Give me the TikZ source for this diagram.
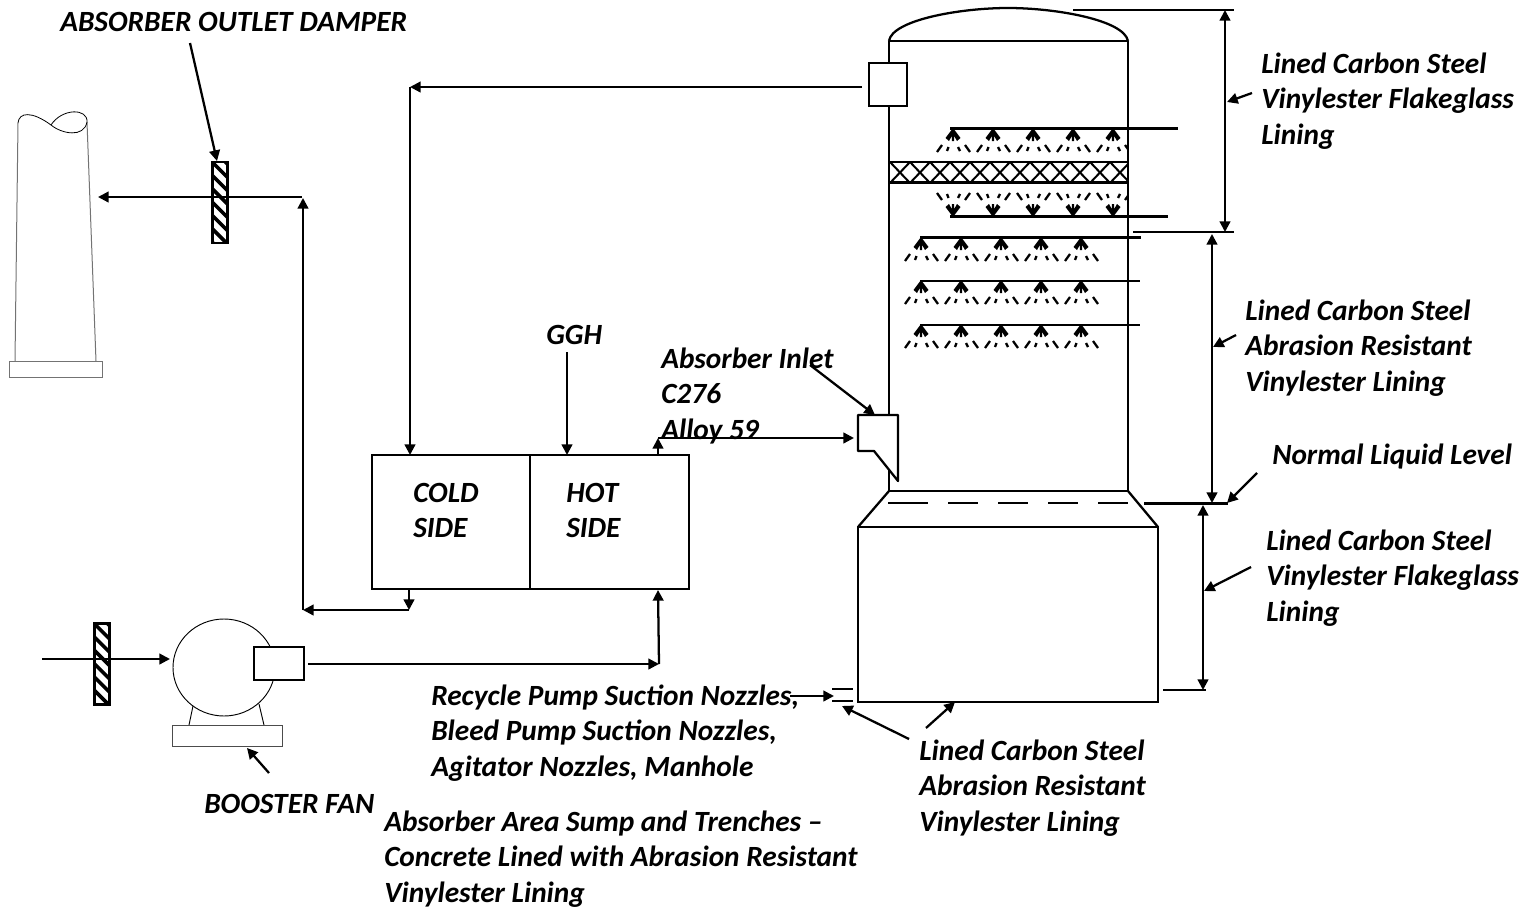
\documentclass[tikz,border=0pt]{standalone}
\usepackage{fontspec}
\setmainfont{Carlito}
\usetikzlibrary{arrows.meta,shapes.geometric}
\tikzset{
  pipe/.style={line width=1.7pt},
  arr/.style={line width=1.7pt,-{Triangle[length=8pt,width=8pt]}},
  ptr/.style={line width=1.7pt,-{Triangle[length=8pt,width=8pt]}},
  dim/.style={line width=1.7pt,{Triangle[length=8pt,width=8pt]}-{Triangle[length=8pt,width=8pt]}},
  thinline/.style={line width=0.7pt},
  greyline/.style={line width=0.75pt,draw=black!55},
  lbl/.style={font=\fontsize{22pt}{26.6pt}\selectfont\bfseries\itshape,align=left,anchor=west,inner sep=0pt,yshift=-0.7pt},
  damper/.style={draw,line width=1.8pt,fill=white,minimum width=11.5pt,minimum height=60.5pt,inner sep=0pt,
    path picture={\foreach \k in {-1,...,6}{
      \draw[line width=2.7pt] ([yshift=-\k*10pt]path picture bounding box.north west) -- ++(12pt,-12pt);}}},
  whitebox/.style={draw,fill=white,inner sep=0pt},
  sprayup/.pic={
    \fill (0,-1) -- (-7.5,9) -- (-4,12) -- (-1.2,7) -- (-1.2,12) -- (1.2,12) -- (1.2,7) -- (4,12) -- (7.5,9) -- cycle;
    \draw[line width=1.7pt] (-16,23) -- (-11,16) (-6,22) -- (-4.5,18) (5,18) -- (7,22) (12,16) -- (17,23);
  }
}
\begin{document}
\begin{tikzpicture}[x=0.75pt,y=-0.75pt]
\useasboundingbox (0,0) rectangle (1532,907);

% Stack
\draw[greyline] (18,123) -- (15,361);
\draw[greyline] (87,122) -- (96,361);
\draw[line width=0.6pt] (18,123) .. controls (19,112) and (32,111) .. (51,125)
   .. controls (62,134) and (84,138) .. (87,122) .. controls (88,108) and (62,108) .. (51,125);
\node[draw=black!55,line width=0.75pt,inner sep=0pt,minimum width=69.75pt,minimum height=12pt] (stackbase) at (55.5,369) {};

% Fan
\node[ellipse,draw,thinline,minimum width=76.5pt,minimum height=72.75pt,inner sep=0pt] (fan) at (224,667.5) {};
\coordinate (legA) at (193,706); \coordinate (legB) at (189,725);
\coordinate (legC) at (259,704); \coordinate (legD) at (264,725);
\draw[thinline] (legA) -- (legB) (legC) -- (legD);
\node[draw=black!70,line width=0.75pt,inner sep=0pt,minimum width=82.5pt,minimum height=16pt] (fanbase) at (227,736) {};
\node[whitebox,line width=0.8pt,minimum width=37.5pt,minimum height=24.75pt] (motor) at (279,663.5) {};

% Dampers
\node[damper] (damperA) at (220,202.5) {};
\node[damper] (damperB) at (102,664) {};

% GGH
\node[draw,pipe,inner sep=0pt,minimum width=118.5pt,minimum height=100.5pt] (cold) at (451,522) {};
\node[draw,pipe,inner sep=0pt,minimum width=119.25pt,minimum height=100.5pt] (hot) at (609.5,522) {};

% Junction coordinates
\coordinate (stackIn) at (98,197);
\coordinate (jA) at (302,197);
\coordinate (jAup) at (303,198);
\coordinate (jB) at (303,610);
\coordinate (jC) at (409,610);
\coordinate (coldB) at (409,589);
\coordinate (jD) at (410,87);
\coordinate (outletL) at (862,87);
\coordinate (coldT) at (410,455);
\coordinate (jE) at (658,438);
\coordinate (hotT) at (658,455);
\coordinate (jF) at (659,664);
\coordinate (hotB) at (658,590);
\coordinate (fanStart) at (42,659);
\coordinate (fanIn) at (170,659);
\coordinate (motorOut) at (308,664);
\coordinate (inletIn) at (854,438);

% Absorber shell
\coordinate (domeL) at (889,41);
\coordinate (domeR) at (1128,41);
\draw[pipe] (domeL) .. controls (892,20) and (960,8) .. (1008,8) .. controls (1056,8) and (1124,20) .. (domeR);
\draw[pipe] (domeL) -- (domeR);
\draw[pipe] (domeL) -- (889,491) -- (1128,491) -- (domeR);
\draw[pipe] (889,491) -- (858,527) (1128,491) -- (1158,527);
\node[draw,pipe,inner sep=0pt,minimum width=225pt,minimum height=131.25pt] (tank) at (1008,614.5) {};
% Liquid level
\draw[pipe] (888,503) -- (928,503) (948,503) -- (978,503) (998,503) -- (1028,503) (1048,503) -- (1078,503) (1098,503) -- (1128,503);

% Outlet box
\node[whitebox,pipe,minimum width=28.5pt,minimum height=32.25pt] (outlet) at (888,84.5) {};
% Inlet
\draw[pipe,fill=white,line join=round] (858,415) -- (898,415) -- (898,481) -- (874,451) -- (858,451) -- cycle;
\coordinate (inletTop) at (875,415);

% Sprays
\begin{scope}
\clip (889,100) rectangle (1127,230);
\foreach \x in {953,993,1033,1073,1113}{
  \pic at (\x,129) {sprayup};
  \pic[yscale=-1] at (\x,216) {sprayup};
}
\end{scope}
\foreach \y in {238,281,325}
  \foreach \x in {921,961,1001,1041,1081}
    \pic at (\x,\y) {sprayup};
\coordinate (hdrAa) at (950,128.5); \coordinate (hdrAb) at (1178,128.5);
\coordinate (hdrBa) at (950,216.5); \coordinate (hdrBb) at (1168,216.5);
\coordinate (hdrCa) at (920,237.5); \coordinate (hdrCb) at (1141,237.5);
\coordinate (hdrDa) at (920,281); \coordinate (hdrDb) at (1140,281);
\coordinate (hdrEa) at (920,325); \coordinate (hdrEb) at (1140,325);
\draw[pipe] (hdrAa) -- (hdrAb) (hdrBa) -- (hdrBb) (hdrCa) -- (hdrCb) (hdrDa) -- (hdrDb) (hdrEa) -- (hdrEb);

% Packing
\draw[line width=1.8pt] (889,162) -- (1128,162) (889,182.5) -- (1128,182.5);
\begin{scope}
\clip (889,161) rectangle (1128,184);
\foreach \i in {0,...,11}
  \draw[line width=1.5pt] (890+20*\i,162) -- (910+20*\i,183) (910+20*\i,162) -- (890+20*\i,183);
\end{scope}

% Flow connectors
\draw[arr] (outletL) -- (jD);
\draw[arr] (jD) -- (coldT);
\draw[arr] (jA) -- (stackIn);
\draw[arr] (jB) -- (jAup);
\draw[arr] (jC) -- (jB);
\draw[arr] (coldB) -- (jC);
\draw[arr] (fanStart) -- (fanIn);
\draw[arr] (motorOut) -- (jF);
\draw[arr] (jF) -- (hotB);
\draw[arr] (hotT) -- (jE);
\draw[arr] (jE) -- (inletIn);

% Bottom nozzles
\coordinate (nzA) at (832,689); \coordinate (nzB) at (853,689);
\coordinate (nzC) at (832,701); \coordinate (nzD) at (853,701);
\draw[pipe] (nzA) -- (nzB) (nzC) -- (nzD);

% Dimension lines
\coordinate (dA) at (1073,10); \coordinate (dAr) at (1234,10);
\coordinate (dB) at (1133,232); \coordinate (dBr) at (1234,232);
\coordinate (dC) at (1144,503.5); \coordinate (dCr) at (1228,503.5);
\coordinate (dD) at (1163,690); \coordinate (dDr) at (1206,690);
\draw[pipe] (dA) -- (dAr) (dB) -- (dBr) (dC) -- (dCr) (dD) -- (dDr);
\draw[dim] (1225,10) -- (1225,232);
\draw[dim] (1212,234) -- (1212,503);
\draw[dim] (1203,505) -- (1203,690);

% Labels
\node[lbl] (tOutlet) at (60,21) {ABSORBER OUTLET DAMPER};
\node[lbl] (tTopR) at (1261,100) {Lined Carbon Steel\\Vinylester Flakeglass\\Lining};
\node[lbl] (tMidR) at (1245,347) {Lined Carbon Steel\\Abrasion Resistant\\Vinylester Lining};
\node[lbl] (tLevel) at (1272,456) {Normal Liquid Level};
\node[lbl] (tLowR) at (1266,577) {Lined Carbon Steel\\Vinylester Flakeglass\\Lining};
\node[lbl] (tGGH) at (546,334) {GGH};
\node[lbl] (tInlet) at (661,395) {Absorber Inlet\\C276\\Alloy 59};
\node[lbl] (tCold) at (413,509.5) {COLD\\SIDE};
\node[lbl] (tHot) at (566,509.5) {HOT\\SIDE};
\node[lbl] (tRecycle) at (431,732) {Recycle Pump Suction Nozzles,\\Bleed Pump Suction Nozzles,\\Agitator Nozzles, Manhole};
\node[lbl] (tFan) at (204,803) {BOOSTER FAN};
\node[lbl] (tSump) at (384,858) {Absorber Area Sump and Trenches --\\Concrete Lined with Abrasion Resistant\\Vinylester Lining};
\node[lbl] (tTank) at (919,787) {Lined Carbon Steel\\Abrasion Resistant\\Vinylester Lining};

% Pointers
\coordinate (pA) at (190,43); \coordinate (pAe) at (217,161);
\draw[ptr] (pA) -- (pAe);
\coordinate (pB) at (567,352); \coordinate (pBe) at (567,455);
\draw[ptr] (pB) -- (pBe);
\coordinate (pC) at (810,365);
\draw[ptr] (pC) -- (inletTop);
\coordinate (pD) at (1252,93); \coordinate (pDe) at (1227,102);
\draw[ptr] (pD) -- (pDe);
\coordinate (pE) at (1236,335); \coordinate (pEe) at (1213,347);
\draw[ptr] (pE) -- (pEe);
\coordinate (pF) at (1257,473); \coordinate (pFe) at (1227,503);
\draw[ptr] (pF) -- (pFe);
\coordinate (pG) at (1251,567); \coordinate (pGe) at (1204,591);
\draw[ptr] (pG) -- (pGe);
\coordinate (pH) at (269,773); \coordinate (pHe) at (247,748);
\draw[ptr] (pH) -- (pHe);
\coordinate (pI) at (790,696); \coordinate (pIe) at (834,696);
\draw[ptr] (pI) -- (pIe);
\coordinate (pJ) at (909,739); \coordinate (pJe) at (842,706);
\draw[ptr] (pJ) -- (pJe);
\coordinate (pK) at (926,728); \coordinate (pKe) at (955,702);
\draw[ptr] (pK) -- (pKe);
\end{tikzpicture}
\end{document}
